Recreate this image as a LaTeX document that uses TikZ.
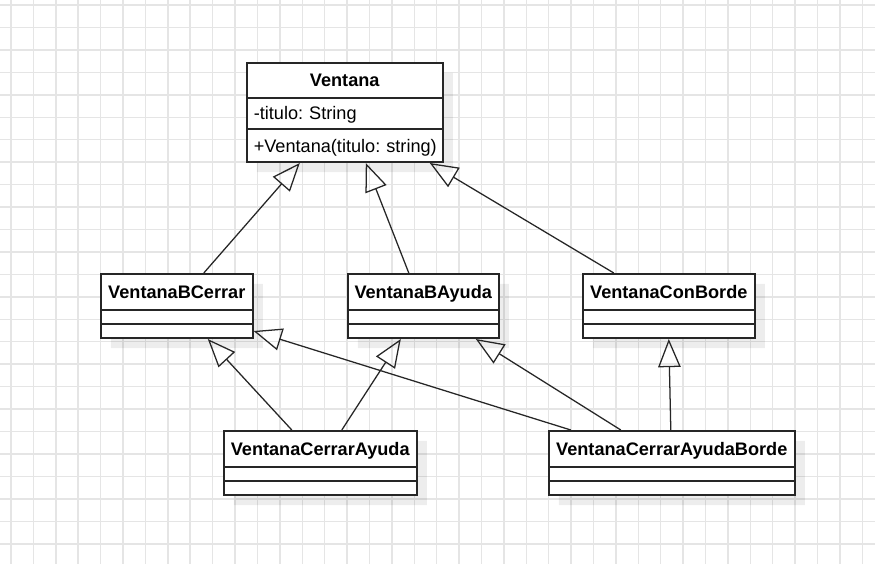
\documentclass[tikz,border=0pt]{standalone}
\usepackage{fontspec}
\setmainfont{Liberation Sans}
\usetikzlibrary{positioning,shapes.multipart,shadows,arrows.meta,calc}

\newcommand{\headstrut}{\rule[-0.26cm]{0pt}{0.865cm}}
\newcommand{\emptystrut}{\rule{0pt}{0.315cm}}

\tikzset{
  umlclass/.style={rectangle split, rectangle split parts=3, draw=black!85,
    line width=1.1pt, fill=white, text width=#1, align=center,
    inner xsep=0pt, inner ysep=0pt, anchor=north west,
    drop shadow={shadow xshift=0.25cm, shadow yshift=-0.25cm, fill=black, opacity=0.07}},
  inherit/.style={-{Triangle[open, length=20pt, width=16pt]}, line width=0.9pt, draw=black!85},
  gridline/.style={draw=black!10, line width=1pt}
}

\begin{document}
\frenchspacing
\begin{tikzpicture}[x=0.025cm, y=-0.025cm, font=\fontsize{12.9}{15}\selectfont]
        \useasboundingbox[fill=white] (0,0) rectangle (875,564);

        % background grid
        \foreach \gx in {0,...,38}
            \draw[gridline] (11+22.4*\gx,0) -- (11+22.4*\gx,564);
        \foreach \gy in {0,...,24}
            \draw[gridline] (0,5+22.45*\gy) -- (875,5+22.45*\gy);

        \node[umlclass=4.9cm] (ventana) at (246,62)
            {\textbf{Ventana}\rule[-0.27cm]{0pt}{0.84cm}
             \nodepart{second}\makebox[4.9cm][l]{\hspace{0.175cm}-titulo: String\rule[-0.23cm]{0pt}{0.74cm}}
             \nodepart{third}\makebox[4.9cm][l]{\hspace{0.175cm}+Ventana(titulo: string)\rule[-0.22cm]{0pt}{0.79cm}}};

        \node[umlclass=3.8cm] (bcerrar) at (100,273)
            {\textbf{VentanaBCerrar}\headstrut\nodepart{second}\emptystrut\nodepart{third}\emptystrut};
        \node[umlclass=3.775cm] (bayuda) at (347,273)
            {\textbf{VentanaBAyuda}\headstrut\nodepart{second}\emptystrut\nodepart{third}\emptystrut};
        \node[umlclass=4.3cm] (conborde) at (582,273)
            {\textbf{VentanaConBorde}\headstrut\nodepart{second}\emptystrut\nodepart{third}\emptystrut};

        \node[umlclass=4.825cm] (cerrarayuda) at (223,430)
            {\textbf{VentanaCerrarAyuda}\headstrut\nodepart{second}\emptystrut\nodepart{third}\emptystrut};
        \node[umlclass=6.15cm] (cerrarayudaborde) at (548,430)
            {\textbf{VentanaCerrarAyudaBorde}\headstrut\nodepart{second}\emptystrut\nodepart{third}\emptystrut};

        \draw[inherit] ($(bcerrar.north)+(27,0)$) -- ($(ventana.south)+(-45,0)$);
        \draw[inherit] ($(bayuda.north)+(-14.5,0)$) -- ($(ventana.south)+(21,0)$);
        \draw[inherit] ($(conborde.north)+(-55,0)$) -- ($(ventana.south)+(85,0)$);

        \draw[inherit] ($(cerrarayuda.north)+(-28.5,0)$) -- ($(bcerrar.south)+(31,0)$);
        \draw[inherit] ($(cerrarayuda.north)+(21.5,0)$) -- ($(bayuda.south)+(-22.5,0)$);

        \draw[inherit] ($(cerrarayudaborde.north)+(-101,0)$) -- ($(bcerrar.south east)+(0,-8)$);
        \draw[inherit] ($(cerrarayudaborde.north)+(-51,0)$) -- ($(bayuda.south)+(52.5,0)$);
        \draw[inherit] ($(cerrarayudaborde.north)+(-1,0)$) -- (conborde.south);

    \end{tikzpicture}
\end{document}
